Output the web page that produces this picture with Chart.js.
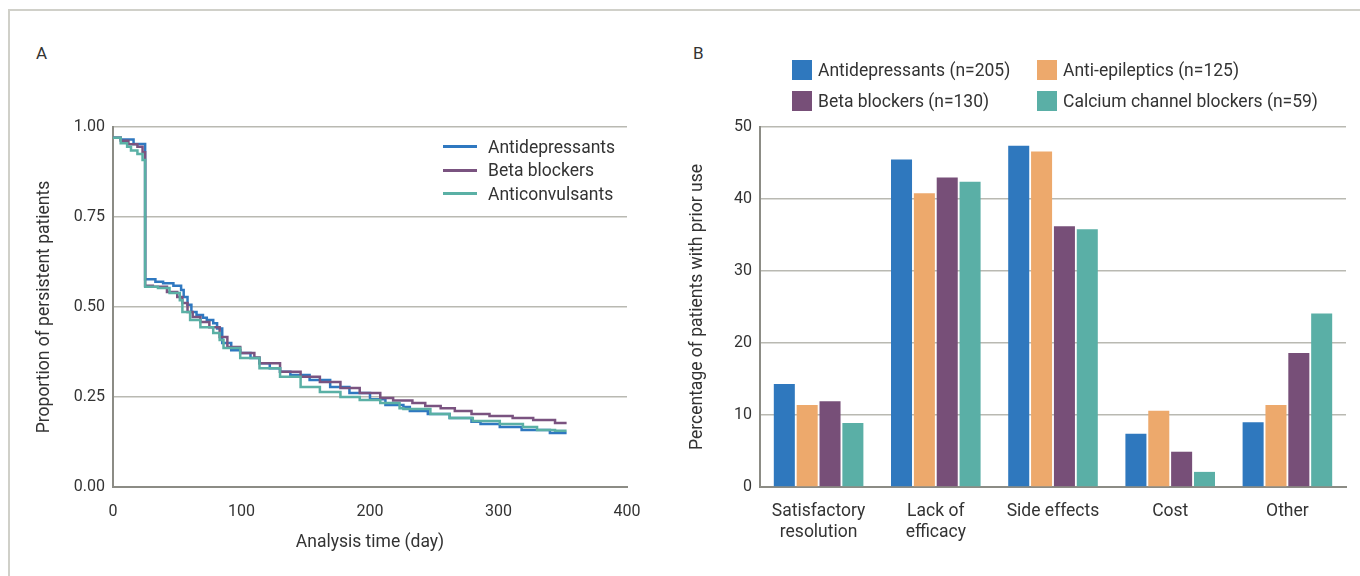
<!DOCTYPE html>
<html>
<head>
<meta charset="utf-8">
<script src="https://cdn.jsdelivr.net/npm/chart.js@4"></script>
<style>
  body { margin: 0; width: 1360px; height: 576px; position: relative; overflow: hidden; background: #fff;
         font-family: Roboto, "Liberation Sans", sans-serif; color: #333; }
  .frame { position: absolute; left: 8px; top: 9px; width: 1400px; height: 700px; border: 2px solid #d0d0c9; }
  .panel { position: absolute; font-size: 17px; }
  .box { position: absolute; top: 0; height: 576px; }
  #legA { position: absolute; left: 443px; top: 135px; font-size: 17.5px; }
  #legA div { height: 23.5px; display: flex; align-items: center; }
  #legA span.ln { display: inline-block; width: 34px; height: 3px; margin-right: 11px; }
  #legB { position: absolute; left: 792px; top: 59px; font-size: 17.5px;
          display: grid; grid-template-columns: 245px 300px; row-gap: 9px; }
  #legB div { display: flex; align-items: center; height: 22px; }
  #legB span.sq { display: inline-block; width: 20px; height: 20px; margin-right: 6px; }
</style>
</head>
<body>
<div class="frame"></div>
<div class="panel" style="left:36px;top:43px">A</div>
<div class="panel" style="left:693px;top:43px">B</div>
<div class="box" style="left:0;width:660px"><canvas id="chartA"></canvas></div>
<div class="box" style="left:660px;width:700px"><canvas id="chartB"></canvas></div>
<div id="legA"></div>
<div id="legB"></div>
<script>
// ---- panel A: persistence curves (day, proportion) ----
var antidepDays = [0, 6, 16, 25, 33, 39, 47, 53, 55, 58, 61, 65, 70, 73, 78, 81, 85, 92, 99, 107, 114, 122, 130, 138, 153, 169, 184, 200, 212, 226, 231, 245, 262, 279, 286, 301, 318, 340, 353];
var antidepSurv = [0.97, 0.965, 0.953, 0.577, 0.570, 0.566, 0.559, 0.547, 0.528, 0.506, 0.486, 0.478, 0.470, 0.464, 0.455, 0.440, 0.400, 0.380, 0.372, 0.358, 0.344, 0.330, 0.320, 0.311, 0.297, 0.278, 0.261, 0.244, 0.228, 0.222, 0.211, 0.203, 0.192, 0.181, 0.175, 0.167, 0.158, 0.150, 0.150];

var betaDays = [0, 6, 12, 19, 23, 25, 31, 42, 50, 54, 58, 62, 68, 75, 83, 89, 99, 110, 114, 130, 146, 161, 177, 192, 208, 218, 233, 243, 255, 266, 279, 293, 311, 327, 344, 353];
var betaSurv = [0.97, 0.962, 0.952, 0.945, 0.930, 0.559, 0.556, 0.542, 0.528, 0.511, 0.486, 0.472, 0.458, 0.444, 0.417, 0.389, 0.372, 0.360, 0.344, 0.320, 0.306, 0.292, 0.275, 0.261, 0.247, 0.240, 0.233, 0.225, 0.219, 0.211, 0.203, 0.197, 0.192, 0.186, 0.178, 0.178];

var anticonvDays = [0, 6, 11, 14, 19, 23, 25, 35, 44, 52, 54, 60, 68, 78, 83, 86, 99, 114, 130, 146, 161, 177, 192, 208, 223, 226, 247, 262, 280, 301, 319, 330, 344, 353];
var anticonvSurv = [0.97, 0.955, 0.945, 0.935, 0.925, 0.908, 0.556, 0.553, 0.539, 0.519, 0.486, 0.464, 0.444, 0.428, 0.408, 0.386, 0.358, 0.330, 0.306, 0.278, 0.264, 0.250, 0.242, 0.233, 0.219, 0.217, 0.203, 0.192, 0.183, 0.175, 0.167, 0.158, 0.156, 0.156];

// ---- panel B: reasons for stopping prior preventive (%) ----
var reasons = [['Satisfactory', 'resolution'], ['Lack of', 'efficacy'], 'Side effects', 'Cost', 'Other'];
var antidepPct = [14.3, 45.5, 47.4, 7.4, 9.0];
var antiepiPct = [11.4, 40.8, 46.6, 10.6, 11.4];
var betaPct = [11.9, 43.0, 36.2, 4.9, 18.6];
var calciumPct = [8.9, 42.4, 35.8, 2.1, 24.1];

var fam = 'Roboto, "Liberation Sans", sans-serif';
var tickFont = { family: fam, size: 16 };
var textFont = { family: fam, size: 17.5 };
var gridCol = '#b9b9b2';
var axisCol = '#8c8c85';

function toPoints(days, vals) {
  return days.map(function (d, i) { return { x: d, y: vals[i] }; });
}

var kmChart = new Chart(document.getElementById('chartA'), {
  type: 'line',
  data: {
    datasets: [
      { label: 'Antidepressants', data: toPoints(antidepDays, antidepSurv), borderColor: '#2f78c0', order: 3 },
      { label: 'Beta blockers', data: toPoints(betaDays, betaSurv), borderColor: '#7a5380', order: 2 },
      { label: 'Anticonvulsants', data: toPoints(anticonvDays, anticonvSurv), borderColor: '#5ab0a5', order: 1 }
    ]
  },
  options: {
    responsive: true,
    maintainAspectRatio: false,
    animation: false,
    datasets: { line: { stepped: 'before', pointRadius: 0, borderWidth: 2.5, fill: false } },
    layout: { padding: { left: 20, top: 127, right: 33, bottom: 19 } },
    plugins: { legend: { display: false }, tooltip: { enabled: false } },
    scales: {
      x: {
        type: 'linear', min: 0, max: 400,
        ticks: { stepSize: 100, color: '#333', font: tickFont, padding: 15 },
        grid: { display: false, drawTicks: false },
        border: { display: true, color: axisCol, width: 2 },
        title: { display: true, text: 'Analysis time (day)', color: '#333', font: textFont },
        afterFit: function (s) { s.height = 70; }
      },
      y: {
        min: 0, max: 1,
        ticks: { stepSize: 0.25, color: '#333', font: tickFont, padding: 8,
                 callback: function (v) { return v.toFixed(2); } },
        grid: { color: gridCol, lineWidth: 1.5, drawTicks: false },
        border: { display: true, color: axisCol, width: 2 },
        title: { display: true, text: 'Proportion of persistent patients', color: '#333', font: textFont,
                 padding: { top: 14, bottom: 4 } },
        afterFit: function (s) { s.width = 93; }
      }
    }
  }
});

var barChart = new Chart(document.getElementById('chartB'), {
  type: 'bar',
  data: {
    labels: reasons,
    datasets: [
      { label: 'Antidepressants (n=205)', data: antidepPct, backgroundColor: '#2f78be' },
      { label: 'Anti-epileptics (n=125)', data: antiepiPct, backgroundColor: '#eda96c' },
      { label: 'Beta blockers (n=130)', data: betaPct, backgroundColor: '#774f78' },
      { label: 'Calcium channel blockers (n=59)', data: calciumPct, backgroundColor: '#5aafa6' }
    ]
  },
  options: {
    responsive: true,
    maintainAspectRatio: false,
    animation: false,
    datasets: { bar: { categoryPercentage: 0.78, barPercentage: 0.92 } },
    layout: { padding: { left: 20, top: 127, right: 14, bottom: 10 } },
    plugins: { legend: { display: false }, tooltip: { enabled: false } },
    scales: {
      x: {
        ticks: { color: '#333', font: { family: fam, size: 17.5, lineHeight: 1.15 }, padding: 15,
                 maxRotation: 0, autoSkip: false },
        grid: { display: false, drawTicks: false },
        border: { display: true, color: axisCol, width: 2 },
        afterFit: function (s) { s.height = 79; }
      },
      y: {
        min: 0, max: 50,
        ticks: { stepSize: 10, color: '#333', font: tickFont, padding: 8 },
        grid: { color: gridCol, lineWidth: 1.5, drawTicks: false },
        border: { display: true, color: axisCol, width: 2 },
        title: { display: true, text: 'Percentage of patients with prior use', color: '#333', font: textFont,
                 padding: { top: 7, bottom: 4 } },
        afterFit: function (s) { s.width = 80; }
      }
    }
  }
});

// legends built from the chart datasets
kmChart.data.datasets.forEach(function (ds) {
  var row = document.createElement('div');
  row.innerHTML = '<span class="ln" style="background:' + ds.borderColor + '"></span>' + ds.label;
  document.getElementById('legA').appendChild(row);
});
barChart.data.datasets.forEach(function (ds) {
  var row = document.createElement('div');
  row.innerHTML = '<span class="sq" style="background:' + ds.backgroundColor + '"></span>' + ds.label;
  document.getElementById('legB').appendChild(row);
});
</script>
</body>
</html>
